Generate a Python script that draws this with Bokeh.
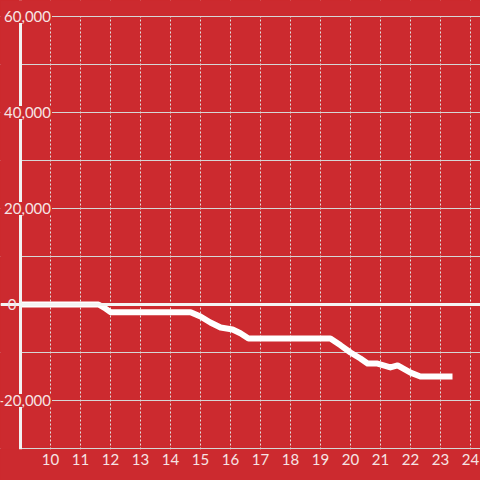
from bokeh.plotting import figure
from bokeh.models import Span, Label, FixedTicker, Range1d, BoxAnnotation
from bokeh.embed import file_html
from bokeh.resources import INLINE

# data (hours of day, cumulative value)
hours = [9.0, 11.6, 11.8, 12.0, 14.67, 15.0, 15.33, 15.67, 16.07, 16.33, 16.6,
         19.33, 19.67, 20.0, 20.33, 20.57, 20.9, 21.33, 21.57, 22.0, 22.33, 23.4]
values = [0, 0, -700, -1600, -1600, -2500, -3750, -4800, -5200, -6000, -7100,
          -7100, -8500, -10000, -11250, -12300, -12300, -13100, -12700, -14200, -15000, -15000]

x_ticks = list(range(10, 25))
y_ticks = [-20000, 0, 20000, 40000, 60000]
y_tick_labels = ["-20,000", "0", "20,000", "40,000", "60,000"]
y_grid = list(range(-30000, 60001, 10000))

RED = "#CC2A2F"
TXT = "#F6E4E4"
FONT = "Lato"

p = figure(width=480, height=480, output_backend="svg", toolbar_location=None,
           x_range=Range1d(8.3333, 24.3333), y_range=Range1d(-30208, 63334),
           min_border_left=0, min_border_right=0, min_border_top=0, min_border_bottom=31)
p.background_fill_color = RED
p.border_fill_color = RED
p.outline_line_color = None

p.yaxis.visible = False

p.xaxis.ticker = FixedTicker(ticks=x_ticks)
p.xaxis.major_tick_out = 0
p.xaxis.major_tick_in = 0
p.xaxis.minor_tick_out = 0
p.xaxis.minor_tick_in = 0
p.xaxis.axis_line_color = None
p.xaxis.major_label_text_color = TXT
p.xaxis.major_label_text_font = FONT
p.xaxis.major_label_text_font_size = "15px"
p.xaxis.major_label_standoff = 4

p.xgrid.ticker = FixedTicker(ticks=x_ticks)
p.xgrid.grid_line_color = "#E0E0E0"
p.xgrid.grid_line_dash = "2 2"
p.xgrid.grid_line_width = 1
p.ygrid.ticker = FixedTicker(ticks=y_grid)
p.ygrid.grid_line_color = "#D6D6D6"
p.ygrid.grid_line_width = 1

# area left of the y axis
p.add_layout(BoxAnnotation(right=8.95, fill_color=RED, fill_alpha=1, line_color=None))
# y axis line
p.add_layout(Span(location=9, dimension="height", line_color="#F2F2F2", line_width=3))
# area above the top grid line
p.add_layout(BoxAnnotation(bottom=60110, fill_color=RED, fill_alpha=1, line_color=None))
# zero line
p.add_layout(Span(location=0, dimension="width", line_color="#F4F4F4", line_width=3))

p.line(hours, values, line_color="white", line_width=6, line_join="round", line_cap="butt")

for v, t in zip(y_ticks, y_tick_labels):
    if len(t) > 1:
        lab = Label(x=10.05, y=v, text=t, text_align="right", text_baseline="middle",
                    text_color=TXT, text_font=FONT, text_font_size="15px",
                    background_fill_color=RED, padding=1)
    else:
        lab = Label(x=8.867, y=v, text=t, text_align="right", text_baseline="middle",
                    text_color=TXT, text_font=FONT, text_font_size="15px")
    p.add_layout(lab)

html = file_html(p, INLINE)
html = html.replace("<body>", '<body style="background-color:%s;">' % RED)
open("out.html", "w").write(html)
